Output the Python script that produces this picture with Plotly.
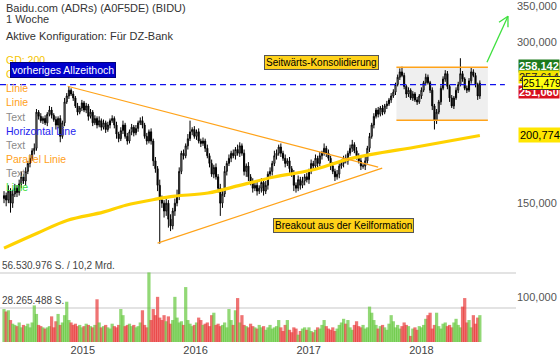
import numpy as np
import pandas as pd
import plotly.graph_objects as go

# ---------------- data (weekly candles, BIDU) ----------------
start_date = "2014-04-21"
first_open = 153.0
closes = [
    155, 152, 158, 150, 156, 160, 157, 163, 168, 165,
    172, 178, 182, 188, 190, 222, 218, 214, 216, 212,
    220, 224, 219, 215, 210, 216, 200, 212, 232, 238,
    244, 240, 236, 228, 222, 226, 231, 224, 228, 218,
    222, 212, 216, 210, 214, 208, 212, 206, 210, 214,
    216, 210, 202, 198, 205, 210, 200, 196, 204, 208,
    203, 207, 212, 214, 210, 200, 196, 204, 196, 180,
    174, 162, 152, 150, 145, 150, 140, 136, 145, 150,
    155, 172, 186, 184, 192, 198, 204, 206, 200, 204,
    196, 194, 196, 190, 184, 178, 170, 175, 168, 160,
    150, 156, 172, 178, 182, 186, 184, 189, 186, 192,
    186, 172, 176, 168, 164, 160, 162, 158, 160, 164,
    158, 162, 170, 172, 178, 184, 186, 191, 186, 182,
    178, 180, 174, 170, 162, 160, 166, 162, 165, 168,
    166, 172, 178, 176, 182, 178, 184, 186, 190, 186,
    182, 176, 172, 168, 170, 176, 178, 182, 180, 186,
    190, 193, 188, 184, 180, 176, 176, 180, 190, 200,
    210, 218, 224, 220, 226, 222, 228, 230, 234, 238,
    242, 250, 258, 264, 260, 248, 240, 244, 236, 240,
    234, 232, 238, 244, 252, 258, 252, 244, 228, 214,
    222, 232, 246, 256, 262, 248, 236, 228, 236, 244,
    250, 262, 256, 246, 244, 254, 264, 260, 250, 238, 251.479,
]
upper_wick = [
    3, 2, 4, 2, 3, 3, 2, 3, 4, 2, 3, 2, 3, 2, 4, 3, 2, 3, 2, 3,
    2, 4, 3, 2, 3, 2, 3, 2, 4, 3, 4, 2, 3, 2, 3, 2, 3, 2, 3, 2,
    3, 2, 3, 2, 4, 2, 3, 2, 3, 2, 3, 2, 3, 2, 3, 4, 2, 3, 2, 3,
    2, 3, 2, 3, 4, 2, 3, 2, 3, 2, 3, 2, 4, 3, 2, 3, 2, 3, 2, 3,
    4, 3, 2, 3, 2, 4, 10, 2, 3, 2, 3, 2, 3, 2, 3, 2, 3, 2, 3, 2,
    3, 2, 4, 2, 3, 2, 3, 2, 4, 3, 2, 3, 2, 3, 2, 3, 2, 3, 2, 3,
    2, 3, 2, 3, 2, 4, 3, 2, 3, 2, 3, 2, 3, 2, 3, 2, 3, 2, 3, 2,
    3, 2, 3, 2, 3, 2, 3, 2, 4, 2, 3, 2, 3, 2, 3, 2, 3, 2, 3, 2,
    3, 4, 2, 3, 2, 3, 2, 3, 2, 3, 2, 3, 2, 3, 2, 3, 2, 3, 2, 3,
    3, 2, 3, 4, 6, 3, 2, 3, 2, 3, 2, 3, 2, 3, 2, 4, 3, 2, 3, 2,
    3, 2, 3, 3, 4, 3, 2, 3, 2, 3, 3, 18, 3, 2, 3, 3, 5, 3, 3, 2, 3,
]
lower_wick = [
    3, 4, 2, 6, 3, 2, 3, 2, 3, 2, 3, 2, 3, 2, 3, 2, 3, 2, 3, 2,
    3, 2, 3, 2, 4, 3, 5, 2, 3, 2, 3, 2, 3, 2, 3, 2, 3, 2, 3, 4,
    2, 3, 2, 3, 2, 3, 2, 3, 2, 3, 2, 3, 4, 3, 2, 3, 2, 3, 2, 3,
    3, 2, 3, 2, 3, 2, 3, 2, 3, 4, 3, 4, 26, 3, 4, 3, 5, 3, 2, 3,
    2, 3, 2, 3, 2, 3, 2, 3, 2, 3, 2, 3, 2, 3, 2, 3, 2, 3, 2, 3,
    8, 3, 2, 3, 2, 3, 2, 3, 2, 3, 2, 3, 4, 3, 2, 3, 2, 3, 2, 3,
    3, 2, 3, 2, 3, 2, 3, 2, 3, 2, 3, 2, 3, 2, 4, 3, 2, 3, 2, 3,
    2, 3, 2, 3, 2, 3, 2, 3, 2, 3, 2, 3, 2, 3, 2, 3, 2, 3, 2, 3,
    2, 3, 2, 3, 2, 3, 2, 3, 2, 3, 2, 3, 2, 3, 2, 3, 2, 3, 2, 3,
    2, 3, 2, 3, 2, 3, 4, 3, 2, 3, 2, 3, 2, 3, 2, 3, 2, 3, 4, 8,
    3, 2, 3, 2, 3, 3, 4, 2, 3, 2, 3, 2, 3, 2, 3, 2, 3, 2, 3, 4, 3,
]
volume_mio = [
    27, 25, 26, 18, 15, 14, 13, 16, 12, 14,
    13, 15, 12, 16, 30, 23, 14, 13, 12, 11,
    12, 13, 21, 12, 17, 23, 14, 16, 22, 33,
    18, 16, 14, 15, 13, 14, 12, 13, 15, 14,
    13, 12, 14, 35, 16, 12, 13, 14, 12, 11,
    15, 13, 12, 14, 27, 22, 13, 14, 15, 13,
    14, 12, 13, 16, 26, 14, 12, 57, 18, 27,
    22, 37, 20, 18, 22, 17, 21, 15, 18, 37,
    20, 16, 17, 14, 45, 18, 15, 13, 14, 16,
    20, 18, 14, 15, 16, 13, 22, 24, 14, 15,
    13, 14, 16, 12, 27, 18, 14, 26, 36, 16,
    22, 14, 13, 12, 15, 13, 12, 11, 14, 12,
    13, 10, 12, 14, 11, 12, 13, 18, 12, 9,
    14, 18, 10, 8, 12, 11, 6, 9, 11, 12,
    10, 12, 9, 8, 10, 12, 11, 14, 18, 13,
    11, 10, 12, 9, 11, 14, 16, 19, 15, 18,
    12, 10, 14, 17, 13, 12, 14, 11, 12, 29,
    24, 18, 14, 11, 13, 14, 12, 10, 15, 22,
    17, 12, 14, 11, 13, 16, 14, 13, 5, 11,
    12, 10, 13, 12, 14, 19, 22, 24, 11, 14,
    24, 13, 11, 15, 16, 13, 14, 12, 16, 19,
    14, 12, 29, 36, 16, 18, 12, 22, 15, 20, 22,
]

# GD 200 (moving average)
ma_dates = ["2014-04-21", "2014-08-08", "2014-11-13", "2015-03-08", "2015-05-20",
            "2015-08-25", "2015-10-26", "2016-02-10", "2016-05-26", "2016-09-11",
            "2017-01-08", "2017-05-23", "2017-12-28", "2018-07-09"]
ma_values = [123.6, 131.9, 139.4, 144.3, 148.7, 152.6, 154.6, 156.7, 162.1, 167.9,
             172.8, 182.1, 191.7, 200.774]

# drawing objects (data coordinates)
wedge_upper_dates = ["2014-11-13", "2017-08-14"]
wedge_upper_vals = [248.2, 175.2]
wedge_lower_dates = ["2015-08-31", "2017-08-27"]
wedge_lower_vals = [126.3, 174.4]
ath_level = 250.0
ath_dates = ["2014-04-08", "2018-09-28"]
box_dates = ["2017-10-12", "2018-08-04"]
box_vals = [214.3, 269.4]
arrow_dates = ["2018-08-01", "2018-10-08"]
arrow_vals = [275.3, 335.6]
arrow_wing_dates = ["2018-09-09", "2018-10-08"]
arrow_wing_vals = [327.0, 320.0]

last_close = 251.479
ma_last = 200.774
vol_max_label = 56530976
vol_half_label = 28265488

year_ticks = ["2015-01-01", "2016-01-01", "2017-01-01", "2018-01-01"]
year_labels = ["2015", "2016", "2017", "2018"]
price_ticks = [100, 150, 300, 350]
price_tick_labels = ["100,000", "150,000", "300,000", "350,000"]

# ---------------- derived ----------------
dates = pd.date_range(start_date, periods=len(closes), freq="7D")
opens = [first_open] + closes[:-1]
highs = [max(o, c) + u for o, c, u in zip(opens, closes, upper_wick)]
lows = [min(o, c) - l for o, c, l in zip(opens, closes, lower_wick)]
vols = [v * 1e6 for v in volume_mio]
vol_colors = ["rgba(100,200,60,0.7)" if c >= o else "rgba(232,55,55,0.7)"
              for o, c in zip(opens, closes)]

FONT = "Liberation Sans, Arial, sans-serif"
PW, PH = 516, 342
price_lo, price_hi = 82.5, 359.8
LLO, LHI = np.log10(price_lo), np.log10(price_hi)


def pxx(x):
    return x / PW


def pyy(y):
    return 1 - y / PH


def price_paper(v):
    return (np.log10(v) - LLO) / (LHI - LLO)


fig = go.Figure()

# volume
fig.add_trace(go.Bar(x=dates, y=vols, marker=dict(color=vol_colors, line=dict(width=0)),
                     width=7 * 86400000 * 1.5, yaxis="y2", showlegend=False))

# candles
fig.add_trace(go.Candlestick(
    x=dates, open=opens, high=highs, low=lows, close=closes,
    increasing=dict(line=dict(color="black", width=1), fillcolor="white"),
    decreasing=dict(line=dict(color="black", width=1), fillcolor="black"),
    whiskerwidth=0, showlegend=False))

# box borders
for v in box_vals:
    fig.add_trace(go.Scatter(x=box_dates, y=[v, v], mode="lines",
                             line=dict(color="#ffa31a", width=1.5), showlegend=False))

# GD 200
fig.add_trace(go.Scatter(x=ma_dates, y=ma_values, mode="lines",
                         line=dict(color="#ffd200", width=3.2, shape="spline"),
                         showlegend=False))

# wedge
fig.add_trace(go.Scatter(x=wedge_upper_dates, y=wedge_upper_vals, mode="lines",
                         line=dict(color="#ffa31a", width=1.2), showlegend=False))
fig.add_trace(go.Scatter(x=wedge_lower_dates, y=wedge_lower_vals, mode="lines",
                         line=dict(color="#ffa31a", width=1.2), showlegend=False))

# previous all-time high
fig.add_trace(go.Scatter(x=ath_dates, y=[ath_level, ath_level], mode="lines",
                         line=dict(color="#1010ee", width=1.3, dash="6px,4px"),
                         showlegend=False))

# green arrow
fig.add_trace(go.Scatter(
    x=[arrow_dates[0], arrow_dates[1], None, arrow_wing_dates[0], arrow_dates[1], arrow_wing_dates[1]],
    y=[arrow_vals[0], arrow_vals[1], None, arrow_wing_vals[0], arrow_vals[1], arrow_wing_vals[1]],
    mode="lines", line=dict(color="#3ee03e", width=1.3), showlegend=False))

shapes = [dict(type="rect", xref="x", yref="paper", x0=box_dates[0], x1=box_dates[1],
               y0=price_paper(box_vals[0]), y1=price_paper(box_vals[1]),
               fillcolor="#efefef", line=dict(width=0), layer="below")]

ann = []
for txt, y in [("Baidu.com (ADRs) (A0F5DE) (BIDU)", 8), ("1 Woche", 19),
               ("Aktive Konfiguration: Für DZ-Bank", 36)]:
    ann.append(dict(text=txt, x=pxx(4), y=pyy(y), xref="paper", yref="paper",
                    xanchor="left", yanchor="middle", showarrow=False,
                    font=dict(family=FONT, size=11, color="#333")))

legend_items = [("GD: 200", "#f5c400", 60), ("GD: 200", "#f5c400", 74),
                ("Linie", "#ffa020", 88), ("Linie", "#ffa020", 102),
                ("Text", "#8a8a8a", 117), ("Horizontal Line", "#2424ee", 131),
                ("Text", "#8a8a8a", 145), ("Parallel Linie", "#ffa020", 159),
                ("Text", "#8a8a8a", 173), ("Linie", "#33dd33", 187)]
for txt, col, y in legend_items:
    ann.append(dict(text=txt, x=pxx(4), y=pyy(y), xref="paper", yref="paper",
                    xanchor="left", yanchor="middle", showarrow=False,
                    font=dict(family=FONT, size=10.5, color=col)))

ann.append(dict(text="vorheriges Allzeithoch", x=pxx(63), y=pyy(70), xref="paper", yref="paper",
                xanchor="center", yanchor="middle",
                showarrow=False, bgcolor="#0000cc", bordercolor="#000080", borderwidth=1,
                borderpad=1, font=dict(family=FONT, size=10.5, color="white")))
ann.append(dict(text="Seitwärts-Konsolidierung", x=pxx(321), y=pyy(62), xref="paper", yref="paper",
                xanchor="center", yanchor="middle",
                showarrow=False, bgcolor="#ffd21a", bordercolor="#555", borderwidth=1,
                borderpad=1, font=dict(family=FONT, size=10, color="black")))
ann.append(dict(text="Breakout aus der Keilformation", x=pxx(343), y=pyy(225), xref="paper",
                yref="paper", xanchor="center", yanchor="middle", showarrow=False,
                bgcolor="#ffd21a", bordercolor="#555",
                borderwidth=1, borderpad=1, font=dict(family=FONT, size=10, color="black")))

ann.append(dict(text="<b>258,142</b>", x=1, xshift=2, y=pyy(65.5), xref="paper", yref="paper",
                xanchor="left", yanchor="middle", showarrow=False, bgcolor="#1d7a1d",
                borderpad=0, font=dict(family=FONT, size=11, color="white")))
ann.append(dict(text="257,614", x=1, xshift=2, y=pyy(77), xref="paper", yref="paper",
                xanchor="left", yanchor="middle", showarrow=False, bgcolor="#f5e400",
                borderpad=0, font=dict(family=FONT, size=11, color="#222")))
ann.append(dict(text="<b>251,060</b>", x=1, xshift=2, y=pyy(92), xref="paper", yref="paper",
                xanchor="left", yanchor="middle", showarrow=False, bgcolor="#d8101e",
                borderpad=0, font=dict(family=FONT, size=11, color="white")))
ann.append(dict(text="251,479", x=1, xshift=6, y=np.log10(last_close), xref="paper", yref="y",
                xanchor="left", yanchor="middle", showarrow=False, bgcolor="#ffff10",
                bordercolor="#333", borderwidth=1, borderpad=0,
                font=dict(family=FONT, size=10.5, color="black")))
ann.append(dict(text="200,774", x=1, xshift=2, y=np.log10(ma_last), xref="paper", yref="y",
                xanchor="left", yanchor="middle", showarrow=False, bgcolor="#ffe600",
                borderpad=1, font=dict(family=FONT, size=11, color="black")))

ann.append(dict(text="56.530.976 S. / 10,2 Mrd.", x=0, y=vol_max_label, xref="paper",
                yref="y2", xanchor="left", yanchor="bottom", showarrow=False,
                font=dict(family=FONT, size=10, color="#444")))
ann.append(dict(text="28.265.488 S.", x=0, y=vol_half_label, xref="paper",
                yref="y2", xanchor="left", yanchor="bottom", showarrow=False,
                font=dict(family=FONT, size=10, color="#444")))

vol_top = vol_max_label * PH / 69.0

fig.update_layout(
    width=560, height=362,
    margin=dict(l=0, r=44, t=0, b=20),
    paper_bgcolor="white", plot_bgcolor="white",
    showlegend=False,
    font=dict(family=FONT),
    annotations=ann,
    shapes=shapes,
    xaxis=dict(range=["2014-04-08", "2018-11-03"], rangeslider=dict(visible=False),
               tickvals=year_ticks, ticktext=year_labels, showgrid=False, zeroline=False,
               showline=False, ticks="", tickfont=dict(size=11, color="#444")),
    yaxis=dict(type="log", range=[LLO, LHI], side="right",
               tickvals=price_ticks, ticktext=price_tick_labels, showgrid=False,
               zeroline=False, showline=False, ticks="",
               tickfont=dict(size=11, color="#555")),
    yaxis2=dict(overlaying="y", range=[0, vol_top], side="left",
                tickvals=[vol_half_label, vol_max_label], showticklabels=False,
                showgrid=True, gridcolor="#e3e3e3", gridwidth=2, zeroline=False),
    barmode="overlay",
)

fig.write_html("out.html")
